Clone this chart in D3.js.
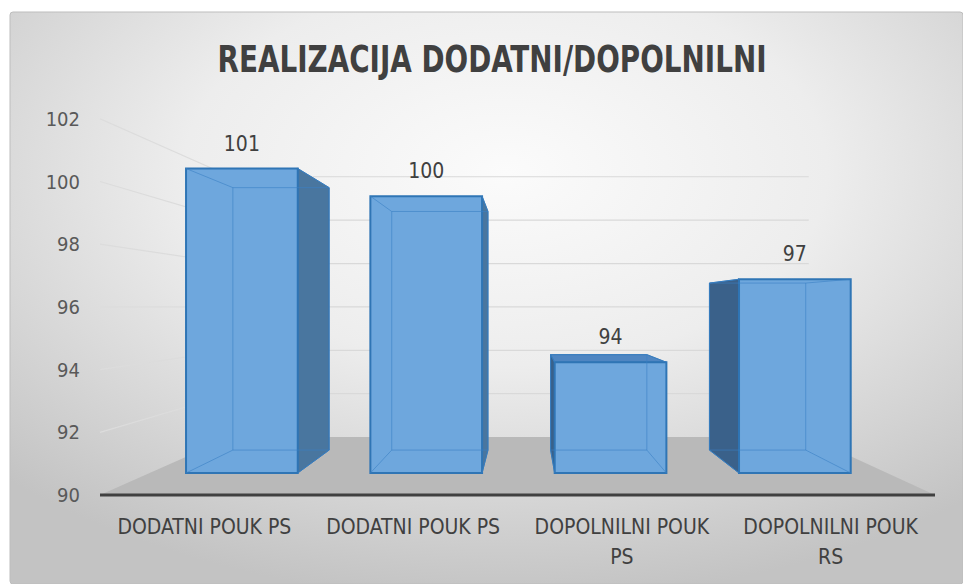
<!DOCTYPE html>
<html lang="en">
<head>
<meta charset="utf-8">
<title>Realizacija dodatni/dopolnilni</title>
<script src="https://d3js.org/d3.v7.min.js"></script>
<style>
  body { margin: 0; background: #fff; }
  .narrow { font-family: "Liberation Sans Narrow", "DejaVu Sans Condensed", sans-serif; }
</style>
</head>
<body>
<script>
// data
const categories = ["DODATNI POUK PS", "DODATNI POUK PS", "DOPOLNILNI POUK PS", "DOPOLNILNI POUK RS"];
const values = [101, 100, 94, 97];
const yTicks = [90, 92, 94, 96, 98, 100, 102];

const W = 963, H = 584;

// perspective: vanishing point + depth factors
const VX = 525, VY = 307;
const floorBack = 0.692, barFront = 0.883, barBack = 0.761;
const proj = (x, y, s) => [VX + s * (x - VX), VY + s * (y - VY)];

const svg = d3.select("body").append("svg")
  .attr("width", W).attr("height", H);

const defs = svg.append("defs");
const bg = defs.append("radialGradient").attr("id", "bg")
  .attr("cx", "52%").attr("cy", "28%").attr("r", "75%");
bg.append("stop").attr("offset", "0").attr("stop-color", "#fbfbfb");
bg.append("stop").attr("offset", "0.45").attr("stop-color", "#ededed");
bg.append("stop").attr("offset", "1").attr("stop-color", "#c3c3c3");

svg.append("rect")
  .attr("x", 10).attr("y", 12).attr("width", W - 10).attr("height", H - 12)
  .attr("rx", 3)
  .attr("fill", "url(#bg)")
  .attr("stroke", "#bdbdbd");

// scales (front plane)
const x = d3.scaleBand().domain(d3.range(categories.length)).range([100, 935]).padding(0);
const y = d3.scaleLinear().domain([90, 102]).range([495, 118.8]);

const x0 = x.range()[0], x1 = x.range()[1];

// back wall gridlines + side wall lines
const grid = svg.append("g");
yTicks.forEach(t => {
  const a = proj(x0, y(t), floorBack), b = proj(x1, y(t), floorBack);
  if (t > 90) {
    grid.append("line")
      .attr("x1", a[0]).attr("y1", a[1]).attr("x2", b[0]).attr("y2", b[1])
      .attr("stroke", "#d9d9d9").attr("stroke-width", 1.2);
    grid.append("line")
      .attr("x1", x0).attr("y1", y(t)).attr("x2", a[0]).attr("y2", a[1])
      .attr("stroke", "#dcdcdc").attr("stroke-width", 1.2);
  }
});

// floor
const floorPts = [[x0, y(90)], [x1, y(90)], proj(x1, y(90), floorBack), proj(x0, y(90), floorBack)];
svg.append("polygon")
  .attr("points", floorPts.map(p => p.join(",")).join(" "))
  .attr("fill", "#b9b9b9");

// axis line
svg.append("line")
  .attr("x1", x0).attr("y1", y(90)).attr("x2", x1).attr("y2", y(90))
  .attr("stroke", "#404040").attr("stroke-width", 3);

// y tick labels
svg.append("g").selectAll("text")
  .data(yTicks).enter().append("text")
  .attr("class", "narrow")
  .attr("x", 80).attr("y", d => y(d))
  .attr("dy", "0.35em")
  .attr("text-anchor", "end")
  .attr("font-size", 20)
  .attr("fill", "#595959")
  .text(d => d);

// bars
const pts = arr => arr.map(p => p.join(",")).join(" ");
const bars = svg.append("g");
values.forEach((v, i) => {
  const bw = x.bandwidth() * 0.606;
  const xl = x(i) + (x.bandwidth() - bw) / 2, xr = xl + bw;
  const yt = y(v), yb = y(90);
  const F = { lt: proj(xl, yt, barFront), rt: proj(xr, yt, barFront), rb: proj(xr, yb, barFront), lb: proj(xl, yb, barFront) };
  const B = { lt: proj(xl, yt, barBack), rt: proj(xr, yt, barBack), rb: proj(xr, yb, barBack), lb: proj(xl, yb, barBack) };
  const g = bars.append("g");

  // visible side / top faces
  if (xr < VX) {
    g.append("polygon").attr("points", pts([F.rt, B.rt, B.rb, F.rb]))
      .attr("fill", "#49769f").attr("stroke", "#2f75b5").attr("stroke-width", 1);
  }
  if (xl > VX) {
    g.append("polygon").attr("points", pts([F.lt, B.lt, B.lb, F.lb]))
      .attr("fill", "#3a618a").attr("stroke", "#2f75b5").attr("stroke-width", 1);
  }
  if (yt > VY) {
    g.append("polygon").attr("points", pts([F.lt, F.rt, B.rt, B.lt]))
      .attr("fill", "#4f86c2").attr("stroke", "#2f75b5").attr("stroke-width", 1);
  }

  // front face
  g.append("polygon").attr("points", pts([F.lt, F.rt, F.rb, F.lb]))
    .attr("fill", "#6ea7dd").attr("stroke", "#2f75b5").attr("stroke-width", 2);

  // hidden edges seen through the glass
  const inner = g.append("g").attr("stroke", "#3a80c4").attr("stroke-opacity", 0.6).attr("stroke-width", 1).attr("fill", "none");
  inner.append("polygon").attr("points", pts([B.lt, B.rt, B.rb, B.lb]));
  ["lt", "rt", "rb", "lb"].forEach(k => {
    inner.append("line").attr("x1", F[k][0]).attr("y1", F[k][1]).attr("x2", B[k][0]).attr("y2", B[k][1]);
  });

  // data label
  g.append("text")
    .attr("class", "narrow")
    .attr("x", (F.lt[0] + F.rt[0]) / 2)
    .attr("y", F.lt[1] - 18)
    .attr("text-anchor", "middle")
    .attr("font-size", 21)
    .attr("fill", "#404040")
    .text(v);
});

// category labels (wrapped to band width)
const catG = svg.append("g");
categories.forEach((c, i) => {
  const cx = x(i) + x.bandwidth() / 2;
  const t = catG.append("text")
    .attr("class", "narrow")
    .attr("x", cx)
    .attr("y", 534)
    .attr("text-anchor", "middle")
    .attr("font-size", 21)
    .attr("fill", "#404040");
  const words = c.split(" ");
  let line = [];
  let ts = t.append("tspan").attr("x", cx).attr("dy", 0);
  words.forEach(w => {
    line.push(w);
    ts.text(line.join(" "));
    if (ts.node().getComputedTextLength() > x.bandwidth() - 20 && line.length > 1) {
      line.pop();
      ts.text(line.join(" "));
      line = [w];
      ts = t.append("tspan").attr("x", cx).attr("dy", 30).text(w);
    }
  });
});

// title
svg.append("text")
  .attr("class", "narrow")
  .attr("x", 492).attr("y", 72)
  .attr("text-anchor", "middle")
  .attr("font-size", 37)
  .attr("font-weight", "bold")
  .attr("textLength", 549)
  .attr("lengthAdjust", "spacingAndGlyphs")
  .attr("fill", "#404040")
  .text("REALIZACIJA DODATNI/DOPOLNILNI");
</script>
</body>
</html>
